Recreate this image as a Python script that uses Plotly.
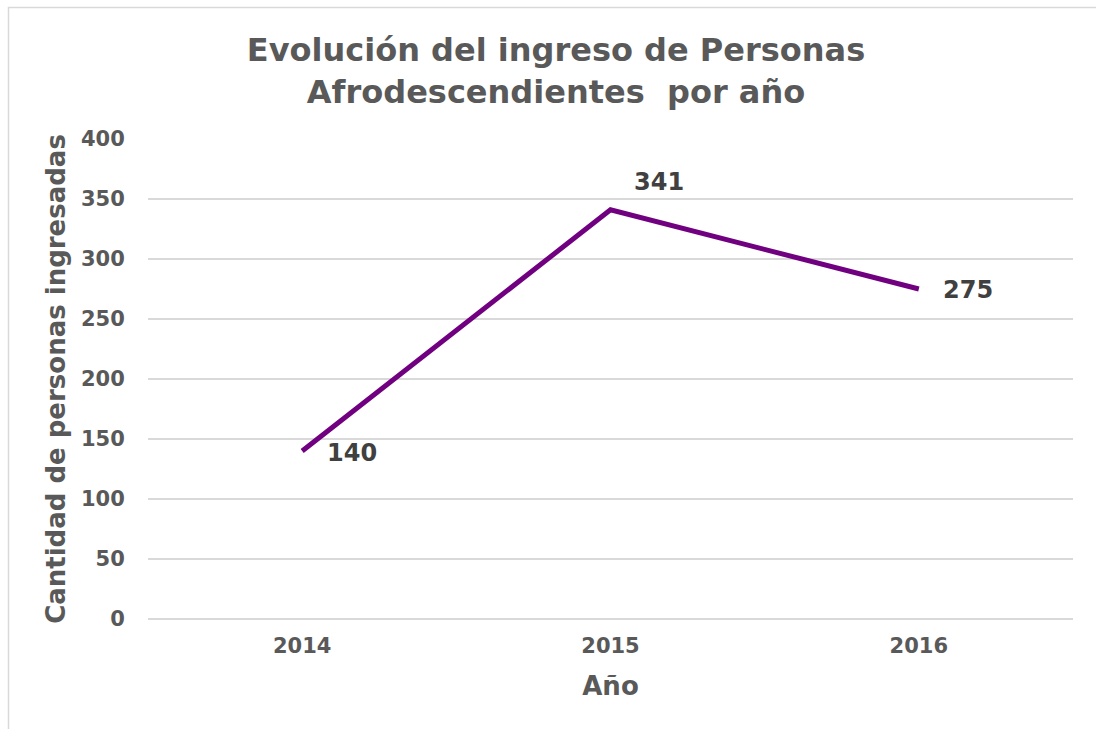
import plotly.graph_objects as go

years = ["2014", "2015", "2016"]
values = [140, 341, 275]
label_xshift = [50, 48, 49]
label_yshift = [-2, 28, -1]

title_text = "Evolución del ingreso de Personas<br>Afrodescendientes  por año"
x_title = "Año"
y_title = "Cantidad de personas ingresadas"
y_ticks = [0, 50, 100, 150, 200, 250, 300, 350, 400]

FONT = "DejaVu Sans, Verdana, sans-serif"
GRAY = "#595959"
DARK = "#404040"
PURPLE = "#700080"
GRID = "#D9D9D9"

fig = go.Figure()
fig.add_trace(go.Scatter(
    x=years, y=values, mode="lines",
    line=dict(color=PURPLE, width=5),
    hoverinfo="x+y", showlegend=False,
))

# category axis: annotations are positioned by category index
for i, (v, dx, dy) in enumerate(zip(values, label_xshift, label_yshift)):
    fig.add_annotation(
        x=i, y=v, xref="x", yref="y", text=str(v), showarrow=False,
        xanchor="center", yanchor="middle",
        xshift=dx, yshift=dy,
        font=dict(family=FONT, size=24, color=DARK, weight="bold"),
    )

# chart border (light gray frame)
fig.add_shape(
    type="rect", xref="paper", yref="paper",
    x0=(8.5 - 148) / 925, x1=1.1, y0=-0.4, y1=1 + (139 - 7.5) / 480,
    line=dict(color=GRID, width=1.5), fillcolor="rgba(0,0,0,0)", layer="below",
)

fig.update_layout(
    width=1096, height=729,
    margin=dict(l=148, r=23, t=139, b=110),
    paper_bgcolor="white", plot_bgcolor="white",
    title=dict(
        text=title_text,
        x=556 / 1096, xanchor="center",
        y=1 - 61 / 729, yanchor="middle",
        font=dict(family=FONT, size=32, color=GRAY, weight="bold"),
    ),
    xaxis=dict(
        type="category", range=[-0.5, 2.5],
        showgrid=False, showline=False, zeroline=False,
        ticks="outside", ticklen=8, tickcolor="rgba(0,0,0,0)",
        tickfont=dict(family=FONT, size=21, color=GRAY, weight="bold"),
        title=dict(text=x_title, standoff=19,
                   font=dict(family=FONT, size=26, color=GRAY, weight="bold")),
    ),
    yaxis=dict(
        range=[0, 400], tickvals=y_ticks,
        showgrid=True, gridcolor=GRID, gridwidth=1.5,
        zeroline=True, zerolinecolor=GRID, zerolinewidth=1.5,
        showline=False, ticks="outside", ticklen=18, tickcolor="rgba(0,0,0,0)",
        tickfont=dict(family=FONT, size=21, color=GRAY, weight="bold"),
        title=dict(text=y_title, standoff=7,
                   font=dict(family=FONT, size=26, color=GRAY, weight="bold")),
    ),
)

fig.write_html("out.html", config={"displayModeBar": False},
               post_script="document.body.style.margin='0px';")
